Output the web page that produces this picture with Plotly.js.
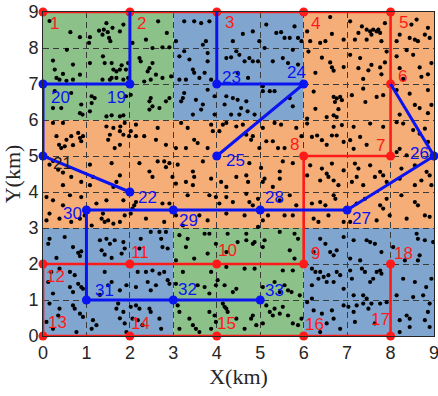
<!DOCTYPE html>
<html>
<head>
<meta charset="utf-8">
<script src="https://cdn.plot.ly/plotly-3.0.1.min.js"></script>
<style>
  html, body { margin: 0; padding: 0; background: #ffffff; }
  #chart { width: 438px; height: 396px; }
</style>
</head>
<body>
<div id="chart"></div>
<script>
// ---- zones (km) ----
const zoneX0 = [0, 3, 3, 0, 6, 6, 0];
const zoneX1 = [3, 6, 6, 3, 9, 9, 9];
const zoneY0 = [6, 0, 6, 0, 0, 6, 3];
const zoneY1 = [9, 3, 9, 3, 3, 9, 6];
const zoneType = ['green', 'green', 'blue', 'blue', 'blue', 'orange', 'orange'];

// ---- red network nodes 1..18 (path follows id order) ----
const redIds = [1, 2, 3, 4, 5, 6, 7, 8, 9, 10, 11, 12, 13, 14, 15, 16, 17, 18];
const redX = [0, 2, 4, 6, 8, 8, 8, 6, 6, 4, 2, 0, 0, 2, 4, 6, 8, 8];
const redY = [9, 9, 9, 9, 9, 7, 5, 5, 2, 2, 2, 2, 0, 0, 0, 0, 0, 2];

// ---- blue network nodes 19..33 ----
const blueIds = [19, 20, 21, 22, 23, 24, 25, 26, 27, 28, 29, 30, 31, 32, 33];
const blueX = [2, 0, 0, 2, 4, 6, 4, 9, 7, 5, 3, 1, 1, 3, 5];
const blueY = [7, 7, 5, 4, 7, 7, 5, 5, 3.5, 3.5, 3.5, 3.5, 1, 1, 1];

// blue branches, given as node ids
const blueRoutes = [
  [2, 19, 20, 21, 22],
  [3, 23, 24, 25],
  [6, 26, 27, 28, 29, 30, 31, 32, 33]
];

// ---- scattered demand points (km) ----
const dotPoints = [
[0.63,8.44],[0.85,8.3],[0.15,8.75],
[1.08,8.3],[1.29,8.48],[1.4,8.51],[1.49,8.44],[1.37,8.37],[1.52,8.28],[1.55,8.19],[1.6,8.56],[1.77,8.46],[1.85,8.65],[1.46,8.69],[1.06,8.14],
[0.55,7.95],[0.23,7.65],[0.69,7.54],[0.27,7.4],[0.46,7.28],[0.31,7.17],[0.38,7.12],[0.54,7.09],[0.69,7.12],[0.85,7.26],
[1.08,7.58],[1.38,7.77],[1.42,7.58],[1.58,7.58],[1.77,7.4],[1.69,7.35],[1.62,7.4],[1.81,7.52],[1.91,7.4],[1.96,7.58],[1.37,7.12],[1.54,7.12],[1.58,7.17],[1.69,7.17],[1.85,7.12],[1.96,7.17],
[0.23,6.33],[0.42,6.33],[0.88,6.43],[0.65,6.75],[0.27,6.8],[0.85,6.19],[0.91,6.15],
[1.12,6.66],[1.12,6.47],[1.19,6.61],[1.08,6.24],[1.46,6.1],[1.58,6.13],[1.77,6.1],[1.85,6.13],[1.91,6.66],
[0.23,5.92],[0.46,5.92],[0.31,5.55],[0.37,5.31],[0.42,5.22],[0.54,5.45],[0.65,5.55],[0.81,5.64],[0.85,5.5],[0.92,5.55],[0.88,5.41],[0.5,5.27],[0.69,5.3],
[1.46,5.82],[1.54,5.59],[1.62,5.78],[1.77,5.69],[1.78,5.82],[1.85,5.59],[1.88,5.92],[1.5,5.45],[1.65,5.22],[1.98,5.55],[1.77,5.31],
[0.15,4.76],[0.35,4.62],[1.58,4.8],[1.08,4.76],[0.23,4.86],[0.46,4.54],
[2.65,8.74],[2.85,8.42],[2.37,8.23],[2.06,8.14],[3.06,8.19],[3.25,8.74],[3.48,8.74],[3.64,8.69],[3.83,8.74],[3.75,8.19],[3.68,8.09],
[2.52,8.0],[2.75,8.02],[2.91,8.02],[2.22,7.72],[2.25,7.63],[2.52,7.58],[2.45,7.44],[2.41,7.35],[2.6,7.26],[2.75,7.17],[2.95,7.21],[2.48,7.12],[2.33,7.07],[3.25,7.91],[3.37,7.68],[3.14,7.77],[3.45,7.4],[3.48,7.31],[3.79,7.63],[3.79,7.86],[3.72,7.31],[3.14,7.12],[3.29,7.12],[3.6,7.17],[3.87,7.12],
[2.02,6.7],[2.48,6.61],[2.45,6.52],[2.52,6.38],[2.45,6.29],[2.68,6.33],[2.83,6.52],[2.91,6.61],[3.25,6.75],[3.22,6.61],[3.18,6.52],[3.52,6.56],[3.68,6.43],[3.64,6.29],[3.79,6.84],[3.95,6.66],[3.45,6.15],[3.95,6.15],
[2.14,5.87],[2.02,5.69],[2.64,5.78],[2.14,5.55],[2.33,5.55],[2.6,5.45],[2.83,5.31],[3.18,5.92],[3.33,5.78],[3.87,5.87],[3.91,5.69],[3.48,5.45],[3.56,5.36],[3.29,5.22],[3.06,5.22],[3.79,5.22],
[2.22,4.8],[2.64,4.85],[2.79,4.85],[2.91,4.8],[3.1,4.76],[2.83,4.69],[2.45,4.57],[3.45,4.57],[3.68,4.85],
[4.6,8.39],[4.83,8.46],[4.37,8.19],[5.37,8.42],[5.48,8.44],[5.56,8.28],[5.79,8.6],[5.68,8.28],[5.87,8.28],[5.95,8.19],[5.14,8.65],[4.98,8.19],
[4.22,7.72],[4.33,7.74],[4.45,7.91],[4.52,7.81],[4.64,7.63],[4.83,7.63],[4.75,7.72],[4.95,7.63],[5.29,7.63],[5.52,7.72],[5.75,7.95],[5.64,7.58],[5.87,7.54],[4.72,7.17],[4.48,7.31],[5.1,8.0],
[4.22,6.66],[4.18,6.43],[4.37,6.61],[4.48,6.56],[4.68,6.52],[4.56,6.33],[4.71,6.24],[4.52,6.15],[4.87,6.15],[5.06,6.8],[5.22,6.8],[5.33,6.8],[5.06,6.94],[5.68,6.61],[5.75,6.38],[4.33,6.15],
[4.14,5.87],[4.22,5.92],[4.06,5.69],[4.45,5.82],[4.6,5.87],[4.68,5.59],[4.83,5.55],[4.79,5.45],[5.06,5.78],[5.14,5.41],[5.29,5.41],[5.33,5.92],[5.48,5.87],[5.95,5.55],[5.83,5.78],[5.56,5.22],[5.41,5.22],[4.98,5.22],
[4.75,4.8],[5.52,4.85],[5.75,4.8],[5.45,4.57],[5.02,4.67],
[6.61,8.86],[6.65,8.39],[6.38,8.14],[6.5,8.19],[6.15,8.19],[6.08,8.46],[6.92,8.23],
[7.07,8.74],[7.34,8.6],[7.45,8.51],[7.53,8.46],[7.6,8.51],[7.68,8.46],[7.76,8.42],[7.72,8.51],[7.56,8.37],[7.45,8.23],[7.18,8.23],[7.79,8.19],[7.26,8.42],[7.87,8.69],
[8.48,8.65],[8.6,8.79],[8.44,8.28],[8.56,8.23],[8.63,8.19],[8.21,8.37],[8.79,8.37],[8.9,8.28],[8.14,8.19],[8.86,8.56],
[6.42,7.73],[6.61,7.6],[6.65,7.46],[6.69,7.37],[6.27,7.31],[6.11,7.9],[6.92,7.47],
[7.3,7.72],[7.26,7.44],[7.49,7.38],[7.56,7.53],[7.76,7.46],[7.79,7.27],[7.91,7.9],[7.87,7.6],[7.07,7.81],[7.37,7.14],
[8.14,7.77],[8.37,7.94],[8.52,7.81],[8.67,7.46],[8.86,7.27],[8.71,7.2],[8.29,7.14],[8.94,7.58],[8.21,7.44],
[6.23,6.79],[6.69,6.64],[6.76,6.6],[6.84,6.64],[6.88,6.55],[6.72,6.5],[6.53,6.08],[6.69,6.13],[6.76,6.08],[6.8,6.3],[6.08,6.04],[6.27,6.31],
[7.11,6.69],[7.42,6.5],[7.68,6.64],[7.83,6.69],[7.37,6.87],
[8.14,6.83],[8.44,6.73],[8.56,6.42],[8.67,6.33],[8.86,6.83],[8.86,6.19],[8.94,6.42],[8.21,6.15],
[6.08,5.9],[6.19,5.53],[6.31,5.57],[6.42,5.44],[6.65,5.57],[6.76,5.57],[6.69,5.81],[6.88,5.86],[6.53,5.31],[6.92,5.39],
[7.15,5.81],[7.53,5.9],[7.83,5.81],[7.3,5.53],[7.45,5.31],[7.07,5.44],[7.15,5.2],
[8.14,5.94],[8.29,5.9],[8.52,5.72],[8.67,5.62],[8.79,5.76],[8.86,5.39],[8.21,5.2],[8.37,5.02],[8.14,5.11],
[6.15,4.74],[6.42,4.65],[6.53,4.51],[6.65,4.79],[7.18,4.79],[7.26,4.65],[6.92,4.6],[7.76,4.56],[7.53,4.74],[8.25,4.65],[8.56,4.74],[8.83,4.56],
[0.65,4.42],[0.46,4.19],[0.88,4.28],[1.08,4.19],[1.15,4.42],[1.69,4.28],[1.77,4.46],[1.62,4.14],
[0.08,3.86],[0.23,3.77],[0.46,3.63],[0.62,3.91],[0.88,3.86],[0.15,3.4],[0.08,3.21],[0.38,3.26],[0.65,3.17],[0.85,3.26],[0.96,3.35],[1.35,3.26],[1.42,3.17],[1.5,3.21],[1.62,3.12],[1.77,3.17],[1.38,3.4],[1.88,3.35],[1.23,3.68],[1.46,3.77],[1.85,3.77],[1.12,3.07],
[0.15,2.7],[0.12,2.56],[0.5,2.75],[0.69,2.47],[0.81,2.31],[0.88,2.35],[0.85,2.22],[1.31,2.66],[1.46,2.7],[1.54,2.56],[1.35,2.38],[1.65,2.66],[1.85,2.61],[1.88,2.43],[1.81,2.29],[1.42,2.26],[0.31,2.17],[1.58,2.17],
[0.38,1.87],[0.62,1.78],[0.73,1.69],[0.81,1.45],[0.88,1.36],[0.92,1.31],[0.69,1.22],[0.62,1.36],[0.19,1.78],[1.42,1.78],[1.58,1.5],[1.5,1.41],[1.77,1.27],[1.92,1.41],[1.31,1.14],[0.12,1.5],[0.23,1.18],
[0.15,0.9],[0.38,0.76],[0.69,0.85],[0.73,0.76],[0.85,0.62],[0.92,0.53],[0.35,0.57],[1.15,0.44],[1.23,0.3],[1.12,0.2],[1.73,0.9],[1.69,0.76],[1.85,0.67],[1.77,0.49],[1.88,0.35],[0.23,0.2],[0.77,0.11],[1.92,0.11],[0.08,0.39],
[2.98,4.42],[3.06,4.23],[3.48,4.42],[3.45,4.19],[3.87,4.37],[3.29,4.28],[2.52,4.42],
[2.14,3.72],[2.1,3.63],[2.06,3.54],[2.02,3.4],[2.75,3.68],[2.91,3.68],[3.33,3.91],[3.83,3.91],[3.98,3.86],[3.6,3.35],[3.06,3.35],[2.37,3.26],[2.79,3.17],[3.79,3.21],[3.22,3.07],
[2.48,2.89],[2.68,2.89],[2.83,2.89],[2.72,2.7],[2.75,2.47],[2.87,2.43],[2.25,2.7],[2.22,2.43],[3.14,2.8],[3.33,2.7],[3.72,2.84],[3.83,2.84],[3.79,2.29],[3.29,2.47],[3.98,2.56],[3.48,2.15],[3.06,2.1],
[2.18,1.78],[2.37,1.78],[2.52,1.82],[2.68,1.73],[2.79,1.78],[2.41,1.5],[2.6,1.41],[2.87,1.55],[2.91,1.45],[2.48,1.27],[2.14,1.36],[3.22,1.78],[3.56,1.41],[3.72,1.36],[3.87,1.78],[3.98,1.41],[3.06,1.45],[3.83,1.18],
[2.02,0.81],[2.14,0.85],[2.22,0.76],[2.45,0.76],[2.48,0.67],[2.06,0.48],[2.18,0.44],[2.29,0.3],[2.72,0.2],[2.68,0.48],[3.1,0.85],[3.14,0.67],[3.37,0.48],[3.45,0.3],[3.52,0.2],[3.83,0.67],[3.95,0.57],[3.98,0.39],[3.87,0.2],[3.6,0.11],[3.14,0.2],
[4.45,4.42],[4.68,4.46],[4.72,4.28],[5.06,4.28],[5.1,4.37],[5.29,4.14],[5.45,4.37],[4.22,4.14],[4.1,4.28],
[4.22,3.86],[4.37,3.72],[4.68,3.95],[4.75,3.72],[4.95,3.81],[4.83,3.63],[5.45,3.77],[5.68,3.91],[5.83,3.63],[4.06,3.68],[4.22,3.4],[4.64,3.35],[5.06,3.21],[4.95,3.03],[5.56,3.35],[5.75,3.35],[5.18,3.35],
[4.25,2.84],[4.48,2.61],[4.68,2.66],[4.83,2.56],[4.87,2.61],[5.1,2.66],[5.06,2.47],[5.45,2.89],[5.68,2.38],[5.79,2.84],[5.87,2.7],[5.79,2.15],[4.22,2.33],[4.68,2.84],
[4.22,1.92],[4.64,1.87],[4.87,1.87],[5.52,1.82],[5.75,1.82],[4.02,1.55],[4.18,1.41],[4.45,1.31],[4.37,1.22],[5.33,1.5],[5.56,1.41],[5.64,1.27],[5.72,1.22],[5.91,1.13],[5.06,1.36],[5.45,1.22],
[4.14,0.9],[4.18,0.81],[4.22,0.76],[4.25,0.67],[4.45,0.48],[4.83,0.57],[4.79,0.48],[5.14,0.85],[5.22,0.67],[5.29,0.57],[5.33,0.76],[5.45,0.62],[5.52,0.81],[5.64,0.57],[5.75,0.35],[5.95,0.48],[5.87,0.3],[4.91,0.3],[5.06,0.35],[4.64,0.2],
[6.08,4.46],[6.38,4.32],[6.57,4.42],[6.69,4.32],[6.8,4.19],[7.11,4.28],[7.22,4.42],[7.37,4.19],[7.64,4.42],[7.83,4.46],[7.91,4.28],[8.21,4.37],[8.56,4.19],[8.71,4.32],[8.9,4.46],[8.94,4.19],
[6.38,3.72],[6.69,3.91],[6.73,3.81],[6.5,3.63],[6.19,3.68],[6.23,3.26],[6.34,3.17],[6.57,3.35],[6.92,3.17],[7.07,3.17],[7.22,3.68],[7.41,3.81],[7.76,3.63],[7.83,3.54],[7.91,3.81],[7.98,3.35],[8.25,3.91],[8.56,3.72],[8.63,3.63],[8.79,3.35],[8.9,3.31],[8.37,3.26],[7.68,3.21],
[6.38,2.7],[6.5,2.56],[6.61,2.33],[6.76,2.38],[6.69,2.24],[6.23,2.33],[7.15,2.66],[7.45,2.66],[7.53,2.61],[7.64,2.56],[7.79,2.33],[7.07,2.15],[7.3,2.1],[8.6,2.84],[8.63,2.7],[8.79,2.66],[8.98,2.61],[8.33,2.1],[8.63,2.1],[8.67,2.24],[8.06,2.47],[6.92,2.75],
[6.19,1.87],[6.27,1.78],[6.38,1.78],[6.46,1.64],[6.34,1.59],[6.57,1.69],[6.76,1.78],[6.84,1.69],[6.19,1.41],[6.53,1.5],[7.07,1.82],[7.11,1.59],[7.34,1.87],[7.41,1.78],[7.53,1.5],[7.6,1.59],[7.76,1.82],[7.79,1.73],[7.68,1.78],[6.69,1.5],[6.92,1.31],[7.15,1.13],[7.37,1.13],[8.29,1.59],[8.56,1.5],[8.82,1.36],[8.94,1.59],[8.52,1.08],[8.75,1.13],[8.14,1.13],
[6.08,0.94],[6.19,1.04],[6.23,0.71],[6.42,0.62],[6.65,0.71],[6.69,0.48],[6.53,0.35],[6.92,0.85],[7.03,0.81],[7.15,0.67],[7.22,0.85],[7.37,0.9],[7.45,1.04],[7.49,0.76],[7.56,0.9],[7.76,0.9],[7.91,0.94],[6.84,0.2],[7.18,0.39],[7.64,0.35],[8.21,0.44],[8.37,0.57],[8.44,0.48],[8.9,0.9],[8.86,0.67],[8.79,0.44],[8.9,0.25],[8.44,0.25],[8.21,0.11],[6.38,0.11]
];

const axisTicks = [0, 1, 2, 3, 4, 5, 6, 7, 8, 9];

// ---- styling ----
const zoneColors = { green: '#8cc18a', blue: '#80a6cf', orange: '#f5ae77' };
const RED = '#ff1a1a';
const BLUE = '#0a14f0';

// label placement around each node (pixel shifts: right, up)
const redLabelShift = {
  1: [11, -11], 2: [12, -11], 3: [13, -10], 4: [12, -11], 5: [13, -10],
  6: [12, 8], 7: [-10, 11], 8: [-9, 12], 9: [12, 11], 10: [11, 14],
  11: [10, 12], 12: [12, -12], 13: [14, 14], 14: [11, 13], 15: [10, 13],
  16: [11, 12], 17: [-10, 17], 18: [13, 11]
};
const blueLabelShift = {
  19: [-13, -13], 20: [17, -13], 21: [19, -7], 22: [18, -5], 23: [15, 7],
  24: [-7, 12], 25: [19, -4], 26: [-15, 3], 27: [14, -8], 28: [14, 13],
  29: [15, -10], 30: [-14, -3], 31: [18, 10], 32: [14, 11], 33: [14, 10]
};

const shapes = zoneType.map((t, i) => ({
  type: 'rect', xref: 'x', yref: 'y', layer: 'below',
  x0: zoneX0[i], x1: zoneX1[i], y0: zoneY0[i], y1: zoneY1[i],
  fillcolor: zoneColors[t], line: { width: 0 }
}));

const nodeX = {}, nodeY = {};
redIds.forEach((id, i) => { nodeX[id] = redX[i]; nodeY[id] = redY[i]; });
blueIds.forEach((id, i) => { nodeX[id] = blueX[i]; nodeY[id] = blueY[i]; });

const traces = [];

// demand points
traces.push({
  type: 'scatter', mode: 'markers',
  x: dotPoints.map(p => p[0]), y: dotPoints.map(p => p[1]),
  marker: { color: '#000000', size: 4.2 },
  hoverinfo: 'skip'
});

// red network
traces.push({
  type: 'scatter', mode: 'lines+markers',
  x: redX, y: redY,
  line: { color: RED, width: 2.6 },
  marker: { color: RED, size: 9 },
  cliponaxis: false, hoverinfo: 'skip'
});

// blue branches
blueRoutes.forEach(route => {
  traces.push({
    type: 'scatter', mode: 'lines',
    x: route.map(id => nodeX[id]), y: route.map(id => nodeY[id]),
    line: { color: BLUE, width: 3 },
    cliponaxis: false, hoverinfo: 'skip'
  });
});
traces.push({
  type: 'scatter', mode: 'markers',
  x: blueX, y: blueY,
  marker: { color: BLUE, size: 9 },
  cliponaxis: false, hoverinfo: 'skip'
});

const annotations = [];
redIds.forEach((id, i) => {
  annotations.push({
    x: redX[i], y: redY[i], xref: 'x', yref: 'y', text: String(id), showarrow: false,
    xanchor: 'center', yanchor: 'middle',
    xshift: redLabelShift[id][0], yshift: redLabelShift[id][1],
    font: { family: 'Liberation Sans, Arial, sans-serif', size: 17, color: RED }
  });
});
blueIds.forEach((id, i) => {
  annotations.push({
    x: blueX[i], y: blueY[i], xref: 'x', yref: 'y', text: String(id), showarrow: false,
    xanchor: 'center', yanchor: 'middle',
    xshift: blueLabelShift[id][0], yshift: blueLabelShift[id][1],
    font: { family: 'Liberation Sans, Arial, sans-serif', size: 17, color: id === 21 ? '#1a1a1a' : BLUE }
  });
});

const axisCommon = {
  range: [0, 9], tickvals: axisTicks, ticktext: axisTicks.map(String),
  showgrid: true, gridcolor: '#3a3a3a', gridwidth: 1, griddash: '6px,4px',
  zeroline: false, showline: true, mirror: true, linecolor: '#262626', linewidth: 1,
  ticks: '', fixedrange: true, ticklabeloverflow: 'allow',
  tickfont: { family: 'Liberation Sans, Arial, sans-serif', size: 18, color: '#262626' }
};

const layout = {
  width: 438, height: 396,
  margin: { l: 43, r: 4, t: 12, b: 60 },
  paper_bgcolor: '#ffffff', plot_bgcolor: '#ffffff',
  showlegend: false,
  shapes: shapes,
  annotations: annotations,
  xaxis: Object.assign({}, axisCommon, {
    title: { text: 'X(km)', standoff: 7,
      font: { family: 'Liberation Serif, Times New Roman, serif', size: 22, color: '#262626' } }
  }),
  yaxis: Object.assign({}, axisCommon, {
    title: { text: 'Y(km)', standoff: 4,
      font: { family: 'Liberation Serif, Times New Roman, serif', size: 22, color: '#262626' } }
  })
};

Plotly.newPlot('chart', traces, layout, { staticPlot: true, displayModeBar: false });
</script>
</body>
</html>
